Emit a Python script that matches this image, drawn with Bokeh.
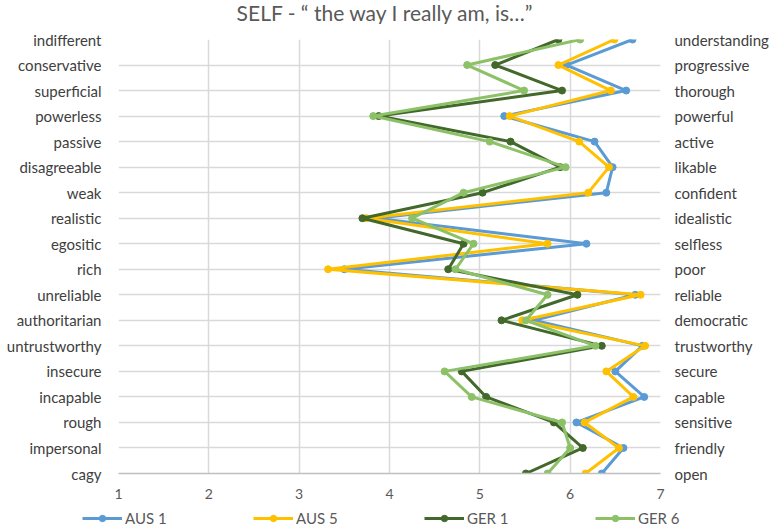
from bokeh.plotting import figure
from bokeh.layouts import column, row
from bokeh.models import Range1d, FixedTicker, LinearAxis, Legend, LegendItem, Label
from bokeh.embed import file_html
from bokeh.resources import INLINE

title_text = 'SELF - \u201c the way I really am, is\u2026\u201d'
left_labels = ["indifferent", "conservative", "superficial", "powerless", "passive",
               "disagreeable", "weak", "realistic", "egositic", "rich", "unreliable",
               "authoritarian", "untrustworthy", "insecure", "incapable", "rough",
               "impersonal", "cagy"]
right_labels = ["understanding", "progressive", "thorough", "powerful", "active",
                "likable", "confident", "idealistic", "selfless", "poor", "reliable",
                "democratic", "trustworthy", "secure", "capable", "sensitive",
                "friendly", "open"]
rows = list(range(1, 19))
x_ticks = [1, 2, 3, 4, 5, 6, 7]

aus1 = [6.69, 5.96, 6.62, 5.27, 6.27, 6.47, 6.40, 3.85, 6.18, 3.50, 6.72, 5.60, 6.80, 6.50, 6.82, 6.07, 6.59, 6.35]
aus5 = [6.49, 5.87, 6.45, 5.33, 6.10, 6.43, 6.20, 3.74, 5.75, 3.32, 6.78, 5.47, 6.83, 6.40, 6.70, 6.16, 6.54, 6.17]
ger1 = [5.87, 5.17, 5.91, 3.88, 5.34, 5.89, 5.03, 3.70, 4.82, 4.65, 6.08, 5.24, 6.35, 4.80, 5.07, 5.82, 6.14, 5.51]
ger6 = [6.11, 4.86, 5.49, 3.82, 5.11, 5.95, 4.82, 4.25, 4.93, 4.73, 5.75, 5.51, 6.28, 4.61, 4.91, 5.91, 6.00, 5.75]

series = [("AUS 1", aus1, "#5B9BD5"), ("AUS 5", aus5, "#FFC000"),
          ("GER 1", ger1, "#43682B"), ("GER 6", ger6, "#8CC168")]

FONT = "Lato"
GREY = "#595959"
LABEL = "#404040"

# ---- title strip ----
tf = figure(width=778, height=24, output_backend="svg", toolbar_location=None,
            x_range=Range1d(0, 1), y_range=Range1d(0, 1),
            x_axis_type=None, y_axis_type=None,
            min_border_left=0, min_border_right=0, min_border_top=0, min_border_bottom=0)
tf.outline_line_color = None
tf.xgrid.visible = False
tf.ygrid.visible = False
tf.add_layout(Label(x=385, y=12, x_units="screen", y_units="screen", text=title_text,
                    text_align="center", text_baseline="middle", text_font=FONT,
                    text_font_size="21px", text_color=GREY))

# ---- main chart ----
p = figure(width=778, height=484, output_backend="svg", toolbar_location=None,
           x_range=Range1d(1, 7), y_range=Range1d(18, 1),
           min_border_left=118, min_border_right=118, min_border_top=15, min_border_bottom=35)
p.outline_line_color = None

p.xaxis.ticker = FixedTicker(ticks=x_ticks)
p.xaxis.major_tick_line_color = None
p.xaxis.minor_tick_line_color = None
p.xaxis.major_tick_out = 0
p.xaxis.major_tick_in = 0
p.xaxis.axis_line_color = "#BFBFBF"
p.xaxis.axis_line_width = 1.5
p.xaxis.major_label_text_font = FONT
p.xaxis.major_label_text_font_size = "14px"
p.xaxis.major_label_text_color = GREY
p.xaxis.major_label_standoff = 15

p.yaxis.ticker = FixedTicker(ticks=rows)
p.yaxis.major_label_overrides = {r: l for r, l in zip(rows, left_labels)}
p.yaxis.axis_line_color = None
p.yaxis.major_tick_line_color = None
p.yaxis.minor_tick_line_color = None
p.yaxis.major_tick_out = 0
p.yaxis.major_tick_in = 0
p.yaxis.major_label_text_font = FONT
p.yaxis.major_label_text_font_size = "15px"
p.yaxis.major_label_text_color = LABEL
p.yaxis.major_label_standoff = 17

ra = LinearAxis(ticker=FixedTicker(ticks=rows),
                major_label_overrides={r: l for r, l in zip(rows, right_labels)})
ra.axis_line_color = None
ra.major_tick_line_color = None
ra.minor_tick_line_color = None
ra.major_tick_out = 0
ra.major_tick_in = 0
ra.major_label_text_font = FONT
ra.major_label_text_font_size = "15px"
ra.major_label_text_color = LABEL
ra.major_label_standoff = 14
p.add_layout(ra, "right")

p.xgrid.ticker = FixedTicker(ticks=x_ticks)
p.ygrid.ticker = FixedTicker(ticks=rows)
p.xgrid.grid_line_color = "#D9D9D9"
p.ygrid.grid_line_color = "#D9D9D9"
p.xgrid.grid_line_width = 1.5
p.ygrid.grid_line_width = 1.5

for name, vals, col in series:
    p.line(vals, rows, line_color=col, line_width=3)
    p.scatter(vals, rows, size=7, fill_color=col, line_color=col)

# ---- legend strip ----
lf = figure(width=778, height=19, output_backend="svg", toolbar_location=None,
            x_range=Range1d(0, 1), y_range=Range1d(0, 1),
            x_axis_type=None, y_axis_type=None,
            min_border_left=0, min_border_right=0, min_border_top=0, min_border_bottom=0)
lf.outline_line_color = None
lf.xgrid.visible = False
lf.ygrid.visible = False

items = []
for name, vals, col in series:
    lr = lf.line([-5, -4], [-5, -4], line_color=col, line_width=3)
    sr = lf.scatter([-5], [-5], size=7, fill_color=col, line_color=col)
    items.append(LegendItem(label=name, renderers=[lr, sr]))

legend = Legend(items=items, location=(82, 0), orientation="horizontal",
                glyph_width=40, glyph_height=16, label_standoff=3, label_width=45,
                spacing=83, padding=0, margin=0, border_line_color=None,
                background_fill_alpha=0, label_text_font=FONT,
                label_text_font_size="15px", label_text_color=GREY)
lf.add_layout(legend, "center")

layout = column(row(tf), p, row(lf), spacing=0)
open("out.html", "w").write(file_html(layout, INLINE))
